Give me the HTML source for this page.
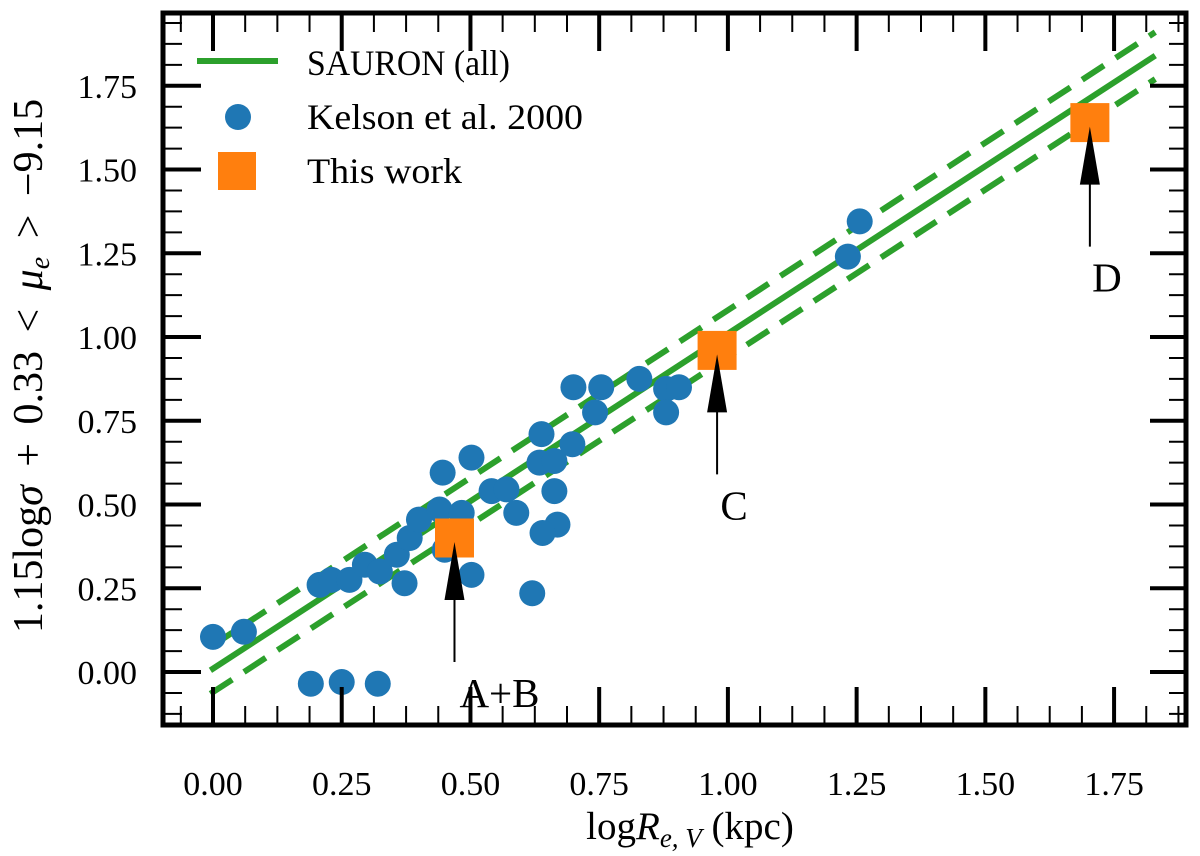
<!DOCTYPE html>
<html><head><meta charset="utf-8"><style>
html,body{margin:0;padding:0;background:#fff;}
svg{display:block;font-family:"Liberation Serif",serif;}
</style></head><body>
<svg id="chart" width="1200" height="856" viewBox="0 0 1200 856" xmlns="http://www.w3.org/2000/svg">
<g id="plot"></g>
<g id="axes"></g>
<text transform="translate(42,366) rotate(-90)" text-anchor="middle" font-size="42" word-spacing="8">1.15log<tspan font-style="italic">σ</tspan> + 0.33 &lt; <tspan font-style="italic">μ</tspan><tspan font-style="italic" font-size="28" dy="7">e</tspan><tspan dy="-7"> &gt; −9.15</tspan></text>
<text x="690" y="839" text-anchor="middle" font-size="39">log<tspan font-style="italic">R</tspan><tspan font-style="italic" font-size="27" dy="8">e, V</tspan><tspan dy="-8"> (kpc)</tspan></text>
<g id="legend">
<line x1="197" y1="61" x2="278" y2="61" stroke="#2ca02c" stroke-width="6"/>
<text x="307" y="75" font-size="36" textLength="203" lengthAdjust="spacingAndGlyphs">SAURON (all)</text>
<circle cx="238" cy="117" r="13" fill="#1f77b4"/>
<text x="307" y="129" font-size="36" textLength="276" lengthAdjust="spacingAndGlyphs">Kelson et al. 2000</text>
<rect x="218" y="152" width="38" height="38" fill="#ff7f0e"/>
<text x="307" y="183" font-size="36" textLength="155" lengthAdjust="spacingAndGlyphs">This work</text>
</g>
</svg>
<script>
const kelsonX=[0.00,0.06,0.19,0.25,0.32,0.207,0.23,0.265,0.295,0.324,0.357,0.372,0.382,0.40,0.44,0.446,0.502,0.483,0.45,0.502,0.541,0.57,0.589,0.634,0.663,0.638,0.698,0.663,0.669,0.64,0.62,0.70,0.754,0.742,0.828,0.88,0.905,0.88,1.256,1.233];
const kelsonY=[0.105,0.12,-0.035,-0.03,-0.035,0.26,0.275,0.275,0.32,0.30,0.35,0.265,0.40,0.455,0.485,0.595,0.64,0.475,0.365,0.29,0.54,0.545,0.475,0.625,0.63,0.71,0.68,0.54,0.44,0.415,0.235,0.85,0.85,0.775,0.875,0.845,0.85,0.775,1.345,1.24];
const workX=[0.469,0.979,1.703];
const workY=[0.40,0.96,1.64];
const workLabels=["A+B","C","D"];
const fitSlope=1.0, fitIntercept=0.01, fitScatter=0.07;
const fitRange=[-0.005,1.83];
const xTicks=[0,0.25,0.5,0.75,1.0,1.25,1.5,1.75];
const xTickLabels=["0.00","0.25","0.50","0.75","1.00","1.25","1.50","1.75"];
const yTicks=[0,0.25,0.5,0.75,1.0,1.25,1.5,1.75];
const yTickLabels=["0.00","0.25","0.50","0.75","1.00","1.25","1.50","1.75"];

const L=163,T=13,R=1186,B=725;
const X=v=>213+v*514.9;
const Y=v=>672-v*335;
const NS="http://www.w3.org/2000/svg";
function mk(tag,attrs,parent){const e=document.createElementNS(NS,tag);for(const k in attrs)e.setAttribute(k,attrs[k]);parent.appendChild(e);return e;}
const plot=document.getElementById('plot'),axes=document.getElementById('axes');
[[0,'fit-line-sauron',null],[fitScatter,'fit-upper-bound','26 14'],[-fitScatter,'fit-lower-bound','26 14']].forEach(([off,name,dash])=>{
 const a={x1:X(fitRange[0]),y1:Y(fitSlope*fitRange[0]+fitIntercept+off),x2:X(fitRange[1]),y2:Y(fitSlope*fitRange[1]+fitIntercept+off),stroke:'#2ca02c','stroke-width':6};
 if(dash)a['stroke-dasharray']=dash;
 const l=mk('line',a,plot);
 
 
});
kelsonX.forEach((x,i)=>{
 const c=mk('circle',{cx:X(x),cy:Y(kelsonY[i]),r:13,fill:'#1f77b4'},plot);
 
 
});
const lblOff=[[45,150],[17,150],[17,150]];
workX.forEach((x,i)=>{
 const cx=X(x),cy=Y(workY[i]);
 const r=mk('rect',{x:cx-19.5,y:cy-19.5,width:39,height:39,fill:'#ff7f0e'},plot);
 
 
 const tip=cy+4;
 const ln=mk('line',{x1:cx,y1:tip+55,x2:cx,y2:tip+120,stroke:'#000','stroke-width':2},plot);
 
 
 const hd=mk('polygon',{points:`${cx},${tip} ${cx-10},${tip+58} ${cx+10},${tip+58}`,fill:'#000'},plot);
 
 
 const t=mk('text',{x:cx+lblOff[i][0],y:tip+lblOff[i][1]+15,'text-anchor':'middle','font-size':41},plot);
 t.textContent=workLabels[i];
 
 
});
for(let v=-0.125;v<=1.95;v+=0.0625){
 const major=Math.abs(v/0.25-Math.round(v/0.25))<1e-6;
 const y=Y(v);
 if(y>T+2&&y<B-2){
  mk('line',{x1:L,y1:y,x2:L+(major?38:19),y2:y,stroke:'#000','stroke-width':major?4:2},axes);
  mk('line',{x1:R,y1:y,x2:R-(major?36:17),y2:y,stroke:'#000','stroke-width':major?4:2},axes);
 }
 const x=X(v);
 if(x>L+2&&x<R-2){
  mk('line',{x1:x,y1:B,x2:x,y2:B-(major?38:19),stroke:'#000','stroke-width':major?4:2},axes);
  mk('line',{x1:x,y1:T,x2:x,y2:T+(major?38:19),stroke:'#000','stroke-width':major?4:2},axes);
 }
}
xTicks.forEach((v,i)=>{
 const t=mk('text',{x:X(v),y:795,'text-anchor':'middle','font-size':34},axes);
 t.textContent=xTickLabels[i];
 
 
});
yTicks.forEach((v,i)=>{
 const t=mk('text',{x:137,y:Y(v)+12,'text-anchor':'end','font-size':34},axes);
 t.textContent=yTickLabels[i];
 
 
});
const fr=mk('rect',{x:L,y:T,width:R-L,height:B-T,fill:'none',stroke:'#000','stroke-width':5},axes);


</script>
</body></html>
